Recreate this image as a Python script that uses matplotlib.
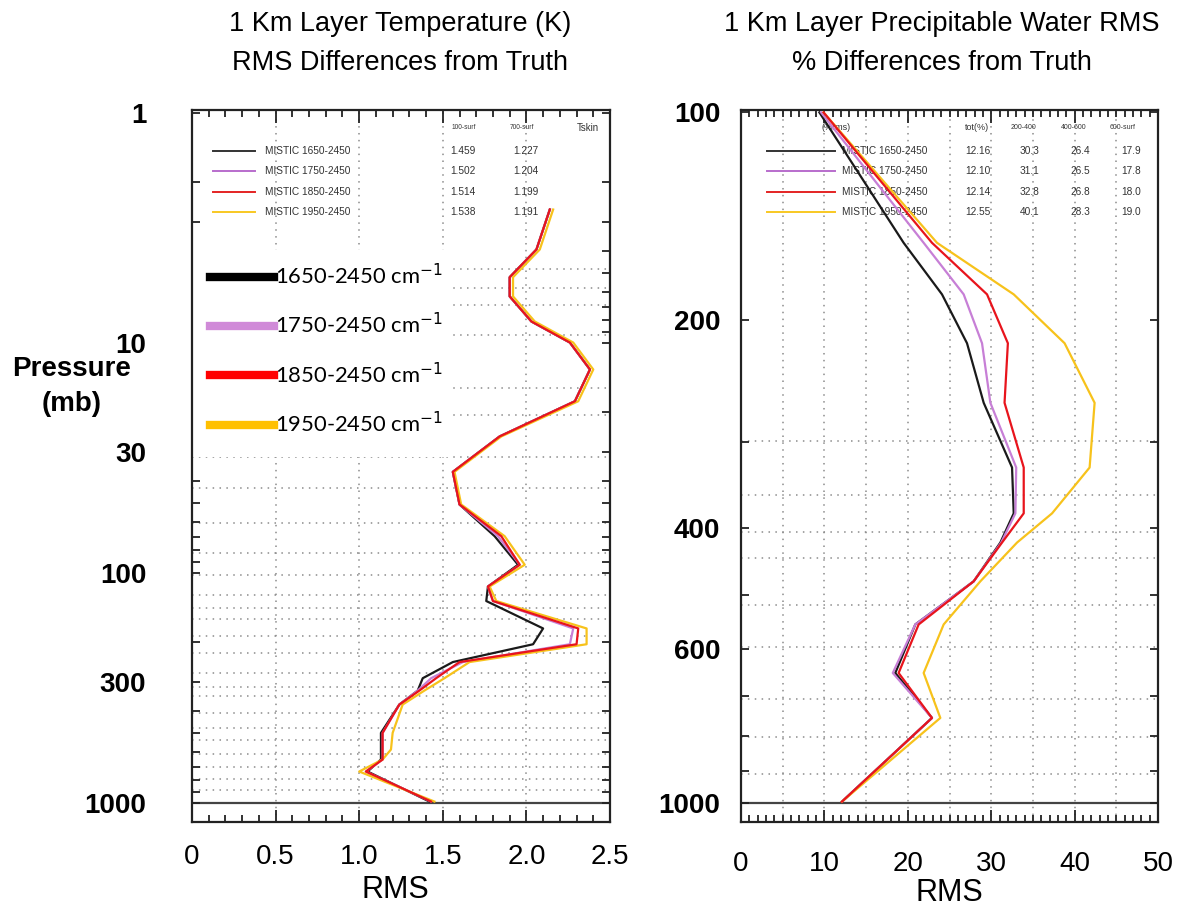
import matplotlib
matplotlib.use('Agg')
import matplotlib.pyplot as plt
from matplotlib import font_manager
from matplotlib.lines import Line2D
from matplotlib.patches import Rectangle
from matplotlib.ticker import MultipleLocator, LogLocator, NullFormatter

# --- data ---
bands = ['1650-2450', '1750-2450', '1850-2450', '1950-2450']

# left panel: 1 km layer temperature RMS (K)
temp_p = [2.64, 3.94, 5.2, 6.3, 8.1, 10.0, 13.1, 18.0, 25.6, 36.5, 50.6, 69.5, 92.5,
          115, 133, 175, 205, 245, 288, 326, 375, 498, 588, 650, 733, 990]
temp_1650 = [2.14, 2.06, 1.90, 1.90, 2.03, 2.26, 2.38, 2.29, 1.84, 1.56, 1.60, 1.81, 1.95,
             1.77, 1.76, 2.10, 2.04, 1.56, 1.38, 1.35, 1.24, 1.13, 1.13, 1.13, 1.05, 1.42]
temp_1750 = [2.14, 2.06, 1.90, 1.90, 2.03, 2.26, 2.38, 2.29, 1.84, 1.56, 1.60, 1.83, 1.96,
             1.77, 1.80, 2.28, 2.26, 1.62, 1.43, 1.35, 1.24, 1.14, 1.14, 1.14, 1.04, 1.43]
temp_1850 = [2.14, 2.06, 1.90, 1.90, 2.03, 2.26, 2.38, 2.29, 1.84, 1.56, 1.60, 1.85, 1.96,
             1.77, 1.80, 2.31, 2.30, 1.60, 1.46, 1.36, 1.24, 1.14, 1.14, 1.14, 1.04, 1.43]
temp_1950 = [2.16, 2.08, 1.92, 1.92, 2.05, 2.28, 2.40, 2.31, 1.85, 1.57, 1.61, 1.87, 1.99,
             1.78, 1.82, 2.36, 2.36, 1.66, 1.51, 1.39, 1.26, 1.20, 1.19, 1.14, 1.00, 1.45]
temp_100_surf = ['1.459', '1.502', '1.514', '1.538']
temp_700_surf = ['1.227', '1.204', '1.199', '1.191']

# right panel: 1 km layer precipitable water RMS (%)
pw_p = [100, 154.5, 183.5, 216, 263.5, 327, 381, 420, 478, 552, 649, 754, 997]
pw_1650 = [9.4, 19.5, 24.1, 27.1, 29.1, 32.5, 32.7, 31.1, 27.9, 20.9, 18.5, 22.9, 12.1]
pw_1750 = [9.6, 21.9, 26.7, 28.9, 29.9, 33.0, 32.9, 31.2, 27.9, 20.9, 18.2, 22.9, 12.1]
pw_1850 = [9.9, 22.9, 29.5, 32.0, 31.6, 33.9, 33.9, 31.3, 27.9, 21.3, 18.9, 22.9, 12.1]
pw_1950 = [9.9, 23.5, 32.7, 38.8, 42.4, 41.8, 37.3, 33.1, 28.7, 24.3, 21.9, 23.9, 12.1]
pw_tot = ['12.16', '12.10', '12.14', '12.55']
pw_200_400 = ['30.3', '31.1', '32.8', '40.1']
pw_400_600 = ['26.4', '26.5', '26.8', '28.3']
pw_600_surf = ['17.9', '17.8', '18.0', '19.0']

# dotted grid levels of the original plots
temp_grid_p = [4.8, 5.8, 6.9, 9.3, 15.7, 20.6, 31.5, 42.8, 60.6, 82.3, 102, 125, 142, 160,
               189, 223, 273, 314, 345, 407, 474, 532, 618, 700, 789, 884]
pw_grid_p = [299, 358, 406, 442, 517, 596, 707, 803, 908]
temp_grid_x = [0.5, 1.0, 1.5, 2.0]
pw_grid_x = [5, 10, 15, 20, 25, 30, 35, 40, 45]

temp_yticks = [1, 10, 30, 100, 300, 1000]
pw_yticks = [100, 200, 400, 600, 1000]
temp_xticks = [0, 0.5, 1.0, 1.5, 2.0, 2.5]
temp_xlabels = ['0', '0.5', '1.0', '1.5', '2.0', '2.5']
pw_xticks = [0, 10, 20, 30, 40, 50]

line_colors = ['#1a1a1a', '#c77fd6', '#e8141c', '#f7c21b']
key_colors = ['#333333', '#b86ccc', '#e42424', '#f8c823']
big_colors = ['#000000', '#d08ad8', '#ff0000', '#ffc000']

names = {f.name for f in font_manager.fontManager.ttflist}
narrow = 'Liberation Sans Narrow' if 'Liberation Sans Narrow' in names else 'Liberation Sans'
plt.rcParams['font.family'] = ['Liberation Sans', 'DejaVu Sans']

fig = plt.figure(figsize=(11.88, 9.07), dpi=100)
W, H = 1188.0, 907.0
ax1 = fig.add_axes([192 / W, 1 - 822 / H, 418 / W, 712 / H])
ax2 = fig.add_axes([741 / W, 1 - 822 / H, 417 / W, 712 / H])


def style(ax, xmax, xminor, ylim, yticks, ypad, xpad, xgrid, pgrid):
    ax.set_yscale('log')
    ax.set_xlim(0, xmax)
    ax.set_ylim(ylim)
    ax.xaxis.set_minor_locator(MultipleLocator(xminor))
    ax.set_yticks(yticks, labels=[str(t) for t in yticks])
    ax.yaxis.set_minor_locator(LogLocator(base=10, subs=range(2, 10)))
    ax.yaxis.set_minor_formatter(NullFormatter())
    ax.tick_params(which='both', direction='in', top=True, right=True, width=1.3, color='#222222')
    ax.tick_params(axis='x', which='major', length=9, pad=xpad)
    ax.tick_params(axis='x', which='minor', length=5)
    ax.tick_params(axis='y', which='both', length=6, pad=ypad)
    for lab in ax.get_yticklabels():
        lab.set_fontsize(20)
        lab.set_fontweight('bold')
    for s in ax.spines.values():
        s.set_linewidth(1.6)
        s.set_color('#222222')
    for gx in xgrid:
        ax.axvline(gx, color='#8c8c8c', lw=1.1, ls=(0, (1, 3.5)), zorder=1)
    for gp in pgrid:
        ax.axhline(gp, color='#8c8c8c', lw=1.1, ls=(0, (1, 3.5)), zorder=1)
    ax.axhline(1000, color='#444444', lw=1.6, zorder=1.5)


style(ax1, 2.5, 0.1, (1215, 0.975), temp_yticks, 33, 16, temp_grid_x, temp_grid_p)
ax1.set_xticks(temp_xticks, labels=temp_xlabels)
style(ax2, 50, 1, (1067, 99.2), pw_yticks, 15, 21, pw_grid_x, pw_grid_p)
ax2.set_xticks(pw_xticks, labels=[str(t) for t in pw_xticks])
for ax in (ax1, ax2):
    for lab in ax.get_xticklabels():
        lab.set_fontsize(20)
        lab.set_family(narrow)

# profiles
temp_series = [temp_1650, temp_1750, temp_1850, temp_1950]
pw_series = [pw_1650, pw_1750, pw_1850, pw_1950]
for idx in [0, 1, 3, 2]:
    ax1.plot(temp_series[idx], temp_p, color=line_colors[idx], lw=1.6, zorder=3)
    ax2.plot(pw_series[idx], pw_p, color=line_colors[idx], lw=1.6, zorder=3)

# small in-plot tables (as in the original IDL plots)
rows = [0.942, 0.914, 0.885, 0.857]
fs = 7.3
for i, band in enumerate(bands):
    ax1.plot([0.05, 0.151], [rows[i], rows[i]], transform=ax1.transAxes,
             color=key_colors[i], lw=1.4, zorder=2)
    ax1.text(0.175, rows[i], 'MISTIC ' + band, transform=ax1.transAxes, fontsize=fs,
             color='#333333', va='center')
    ax1.text(0.617, rows[i], temp_100_surf[i], transform=ax1.transAxes, fontsize=fs,
             color='#333333', va='center')
    ax1.text(0.768, rows[i], temp_700_surf[i], transform=ax1.transAxes, fontsize=fs,
             color='#333333', va='center')
    ax2.plot([0.062, 0.225], [rows[i], rows[i]], transform=ax2.transAxes,
             color=key_colors[i], lw=1.4, zorder=2)
    ax2.text(0.242, rows[i], 'MISTIC ' + band, transform=ax2.transAxes, fontsize=fs,
             color='#333333', va='center', zorder=2)
    for xf, col in zip([0.537, 0.669, 0.789, 0.911], [pw_tot, pw_200_400, pw_400_600, pw_600_surf]):
        ax2.text(xf, rows[i], col[i], transform=ax2.transAxes, fontsize=fs,
                 color='#333333', va='center', zorder=2)
for xf, head in zip([0.622, 0.761], ['100-surf', '700-surf']):
    ax1.text(xf, 0.975, head, transform=ax1.transAxes, fontsize=4.8, color='#333333', va='center')
ax1.text(0.921, 0.975, 'Tskin', transform=ax1.transAxes, fontsize=7, color='#333333', va='center')
ax2.text(0.192, 0.975, '(%rms)', transform=ax2.transAxes, fontsize=6.5, color='#333333', va='center', zorder=2)
for xf, head in zip([0.537, 0.647, 0.767, 0.885], ['tot(%)', '200-400', '400-600', '600-surf']):
    ax2.text(xf, 0.975, head, transform=ax2.transAxes, fontsize=5 if head != 'tot(%)' else 6.5,
             color='#333333', va='center', zorder=2)

# big overlay legend on a white patch
ax1.add_patch(Rectangle((0.0, 0.513), 0.624, 0.29, transform=ax1.transAxes,
                        facecolor='white', edgecolor='none', zorder=2))
handles = [Line2D([], [], color=c, lw=6) for c in big_colors]
labels = [b + ' cm$^{-1}$' for b in bands]
ax1.legend(handles, labels, loc='upper left', bbox_to_anchor=(0.043, 0.785),
           frameon=False, prop={'family': 'Lato', 'size': 15.8}, handlelength=2.9,
           handletextpad=0.08, labelspacing=1.1, borderaxespad=0, borderpad=0)

# axis labels and titles
ax1.set_ylabel('Pressure\n(mb)', rotation=0, fontsize=20, fontweight='bold',
               ha='center', va='center', linespacing=1.45)
ax1.yaxis.set_label_coords(-0.287, 0.611)
ax1.set_xlabel('RMS', fontsize=22, family=narrow)
ax1.xaxis.set_label_coords(0.486, -0.0955)
ax2.set_xlabel('RMS', fontsize=22, family=narrow)
ax2.xaxis.set_label_coords(0.499, -0.0997)
for lab in (ax1.xaxis.label, ax2.xaxis.label):
    lab.set_va('center')

fig.text(400 / W, 1 - 24 / H, '1 Km Layer Temperature (K)', fontsize=19.5, ha='center', va='center')
fig.text(400 / W, 1 - 63 / H, 'RMS Differences from Truth', fontsize=19.5, ha='center', va='center')
fig.text(942 / W, 1 - 24 / H, '1 Km Layer Precipitable Water RMS', fontsize=19.5, ha='center', va='center')
fig.text(942 / W, 1 - 63 / H, '% Differences from Truth', fontsize=19.5, ha='center', va='center')

fig.savefig('out.png', dpi=100)
